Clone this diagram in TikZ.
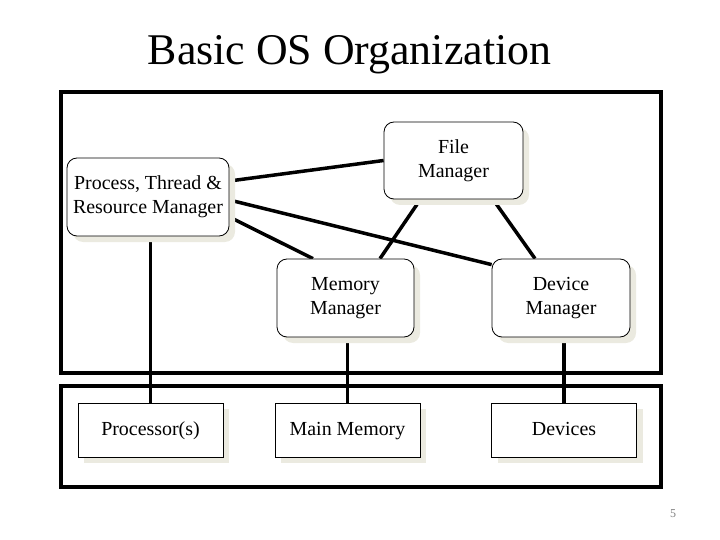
\documentclass[tikz,border=0pt]{standalone}
\usepackage{fontspec}
\setmainfont{Liberation Serif}
\usetikzlibrary{shadows,backgrounds}
\definecolor{shadowc}{HTML}{EBEAE0}
\tikzset{
  frame/.style={draw, line width=3.5bp, inner sep=0pt},
  mgr/.style={draw, line width=0.8bp, rounded corners=10bp, fill=white, align=center,
    font=\fontsize{20}{24}\selectfont, inner sep=0pt,
    drop shadow={shadow xshift=6bp, shadow yshift=-6bp, fill=shadowc, opacity=1}},
  hw/.style={draw, line width=0.8bp, fill=white, align=center,
    font=\fontsize{20}{24}\selectfont, inner sep=0pt, text height=14bp, text depth=4bp,
    minimum width=145bp, minimum height=54bp,
    drop shadow={shadow xshift=6bp, shadow yshift=-6bp, fill=shadowc, opacity=1}},
  conn/.style={line width=3.5bp}
}
\begin{document}
\begin{tikzpicture}[x=1bp,y=-1bp]
\useasboundingbox (0,0) rectangle (720,540);
\node[anchor=base, font=\fontsize{44}{50}\selectfont] (title) at (349.5,65) {Basic OS Organization};
\node[frame, minimum width=600bp, minimum height=281bp] (os) at (361,232.5) {};
\node[frame, minimum width=600bp, minimum height=101bp] (hwbox) at (361,436.5) {};
\node[mgr, minimum width=162bp, minimum height=78bp] (proc) at (148,197) {Process, Thread \&\\Resource Manager};
\node[mgr, minimum width=139bp, minimum height=77bp] (file) at (453.5,160.5) {File\\Manager};
\node[mgr, minimum width=137bp, minimum height=78bp] (mem) at (345.5,298) {Memory\\Manager};
\node[mgr, minimum width=138bp, minimum height=78bp] (dev) at (561,298) {Device\\Manager};
\node[hw] (cpu) at (150.5,430) {Processor(s)};
\node[hw] (ram) at (347.5,430) {Main Memory};
\node[hw] (io) at (564,430) {Devices};
\begin{scope}[on background layer]
\draw[conn] ([yshift=16bp]proc.east) -- (file.west);
\draw[conn] ([yshift=-3bp]proc.east) -- ([yshift=-6bp]dev.north west);
\draw[conn] ([yshift=-20bp]proc.east) -- ([xshift=-32.5bp]mem.north);
\draw[conn] ([xshift=-36.5bp,yshift=-5bp]file.south) -- ([xshift=34.5bp]mem.north);
\draw[conn] ([xshift=39.5bp]file.south) -- ([xshift=-26bp]dev.north);
\draw[conn] (proc.south -| cpu.north) -- (cpu.north);
\draw[conn] (mem.south -| ram.north) -- (ram.north);
\draw[conn] (dev.south -| io.north) -- (io.north);
\end{scope}
\node[text=gray, font=\fontsize{12}{14}\selectfont] (pg) at (673,514) {5};
\end{tikzpicture}
\end{document}
